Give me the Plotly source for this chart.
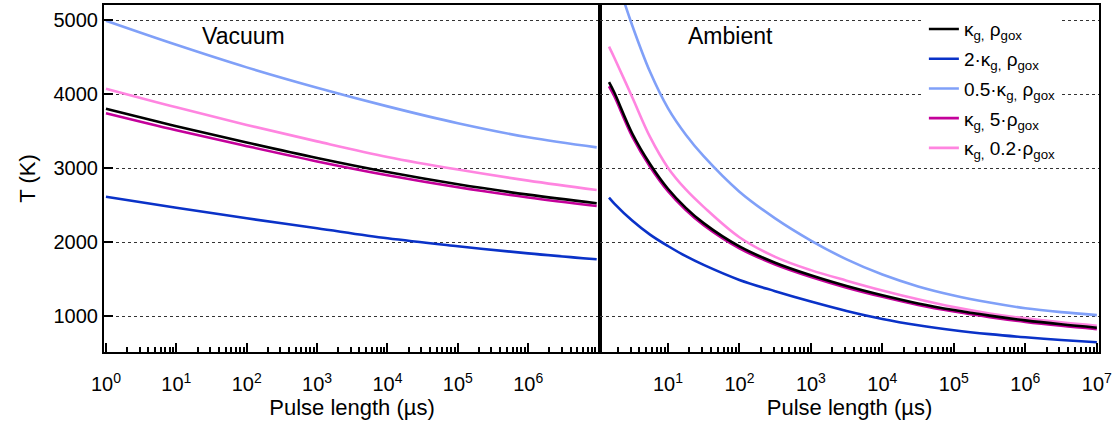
import plotly.graph_objects as go

# ---------------- data ----------------
# Vacuum panel: pulse length (µs)
t_vac = [1, 10, 100, 1e3, 1e4, 1e5, 1e6, 9.4e6]
vac_base   = [3800, 3565, 3345, 3135, 2945, 2780, 2640, 2523]   # κg, ρgox
vac_2k     = [2612, 2462, 2320, 2185, 2050, 1943, 1846, 1766]   # 2·κg
vac_05k    = [4990, 4665, 4360, 4085, 3833, 3605, 3415, 3279]   # 0.5·κg
vac_5rho   = [3740, 3510, 3295, 3089, 2902, 2740, 2602, 2486]   # 5·ρgox
vac_02rho  = [4072, 3820, 3582, 3360, 3150, 2979, 2829, 2703]   # 0.2·ρgox

# Ambient panel: pulse length (µs)
t_amb = [1.5, 1.78, 3.16, 5.62, 10, 17.8, 31.6, 100, 316, 1e3, 3162, 1e4, 31623,
         1e5, 316228, 1e6, 3162278, 1e7]
amb_base  = [4160, 4020, 3470, 3055, 2720, 2462, 2255, 1940, 1720, 1550, 1405, 1280,
             1170, 1080, 1005, 941, 888, 842]
amb_2k    = [2600, 2520, 2290, 2100, 1946, 1808, 1690, 1487, 1335, 1195, 1068, 960,
             875, 808, 755, 712, 676, 645]
amb_05k   = [5860, 5650, 4930, 4300, 3810, 3450, 3160, 2680, 2320, 2020, 1765, 1560,
             1400, 1278, 1182, 1105, 1052, 1012]
amb_5rho  = [4105, 3970, 3428, 3018, 2687, 2432, 2227, 1914, 1696, 1527, 1383, 1259,
             1149, 1060, 985, 921, 868, 822]
amb_02rho = [4640, 4490, 3960, 3420, 3005, 2710, 2475, 2065, 1800, 1620, 1478, 1345,
             1225, 1120, 1035, 968, 915, 869]

names = ["κ<sub>g,</sub> ρ<sub>gox</sub>",
         "2·κ<sub>g,</sub> ρ<sub>gox</sub>",
         "0.5·κ<sub>g,</sub> ρ<sub>gox</sub>",
         "κ<sub>g,</sub> 5·ρ<sub>gox</sub>",
         "κ<sub>g,</sub> 0.2·ρ<sub>gox</sub>"]
colors = ["#000000", "#0a32c8", "#80a0f8", "#c4009a", "#ff85e0"]

vac_series = [vac_base, vac_2k, vac_05k, vac_5rho, vac_02rho]
amb_series = [amb_base, amb_2k, amb_05k, amb_5rho, amb_02rho]

left_ticks = [1, 10, 100, 1e3, 1e4, 1e5, 1e6]
left_ticktext = ["10<sup>0</sup>", "10<sup>1</sup>", "10<sup>2</sup>", "10<sup>3</sup>",
                 "10<sup>4</sup>", "10<sup>5</sup>", "10<sup>6</sup>"]
right_ticks = [10, 100, 1e3, 1e4, 1e5, 1e6, 1e7]
right_ticktext = ["10<sup>1</sup>", "10<sup>2</sup>", "10<sup>3</sup>", "10<sup>4</sup>",
                  "10<sup>5</sup>", "10<sup>6</sup>", "10<sup>7</sup>"]
y_ticks = [1000, 2000, 3000, 4000, 5000]

# ---------------- figure ----------------
FONT = "Liberation Sans, Arial, sans-serif"
fig = go.Figure()

# draw order: put black on top
order = [4, 2, 1, 3, 0]
for i in order:
    fig.add_trace(go.Scatter(x=t_vac, y=vac_series[i], mode="lines",
                             line=dict(color=colors[i], width=2.6, shape="spline"),
                             name=names[i], legendgroup=str(i), legendrank=i + 1,
                             showlegend=True, xaxis="x", yaxis="y"))
for i in order:
    fig.add_trace(go.Scatter(x=t_amb, y=amb_series[i], mode="lines",
                             line=dict(color=colors[i], width=2.6, shape="spline"),
                             name=names[i], legendgroup=str(i), legendrank=i + 1,
                             showlegend=False, xaxis="x2", yaxis="y2"))

minor_vals = [m * 10 ** e for e in range(0, 8) for m in range(2, 10)]

split = (600 - 104) / 995.0
yrange = [513.5, 5203]

common_x = dict(type="log", showline=True, linecolor="black", linewidth=2, mirror=True,
                ticks="inside", ticklen=9, tickwidth=2, tickcolor="black",
                showgrid=False, zeroline=False, automargin=False,
                tickfont=dict(family=FONT, size=20, color="black"),
                ticklabelstandoff=13,
                minor=dict(tickvals=minor_vals, ticks="inside", ticklen=5, tickwidth=1.5,
                           tickcolor="black", showgrid=False),
                title=dict(text="Pulse length (µs)", font=dict(family=FONT, size=22, color="black"),
                           standoff=0))

fig.update_layout(
    width=1117, height=431,
    margin=dict(l=104, r=18, t=5, b=79, autoexpand=False),
    paper_bgcolor="white", plot_bgcolor="white",
    showlegend=True,
    xaxis=dict(domain=[0, split], range=[-0.028, 7.02], tickmode="array",
               tickvals=left_ticks, ticktext=left_ticktext, anchor="y", **common_x),
    xaxis2=dict(domain=[split, 1], range=[0.05, 7.03], tickmode="array",
                tickvals=right_ticks, ticktext=right_ticktext, anchor="y2", **common_x),
    yaxis=dict(range=yrange, tickmode="array", tickvals=y_ticks,
               showline=True, linecolor="black", linewidth=2, mirror=True,
               ticks="inside", ticklen=9, tickwidth=2, tickcolor="black",
               showgrid=True, gridcolor="#333333", griddash="dot", gridwidth=1,
               zeroline=False, ticklabelstandoff=0, automargin=False,
               tickfont=dict(family=FONT, size=20, color="black"),
               title=dict(text="T (K)", font=dict(family=FONT, size=22, color="black"),
                          standoff=12),
               anchor="x"),
    yaxis2=dict(range=yrange, matches="y", tickmode="array", tickvals=y_ticks,
                showticklabels=False, ticks="", automargin=False,
                showline=True, linecolor="black", linewidth=2, mirror=True,
                showgrid=True, gridcolor="#333333", griddash="dot", gridwidth=1,
                zeroline=False, anchor="x2"),
    legend=dict(x=0.824, y=0.985, xanchor="left", yanchor="top",
                bgcolor="white", borderwidth=0, tracegroupgap=2,
                font=dict(family=FONT, size=19, color="black")),
    annotations=[
        dict(text="Vacuum", x=(243 - 104) / 995, y=1 - (36 - 5) / 347, xref="paper", yref="paper",
             xanchor="center", yanchor="middle",
             showarrow=False, font=dict(family=FONT, size=23, color="black")),
        dict(text="Ambient", x=(730 - 104) / 995, y=1 - (36 - 5) / 347, xref="paper", yref="paper",
             xanchor="center", yanchor="middle",
             showarrow=False, font=dict(family=FONT, size=23, color="black")),
    ],
)

fig.write_html("out.html", config={"displayModeBar": False},
               post_script="document.body.style.margin='0';")
